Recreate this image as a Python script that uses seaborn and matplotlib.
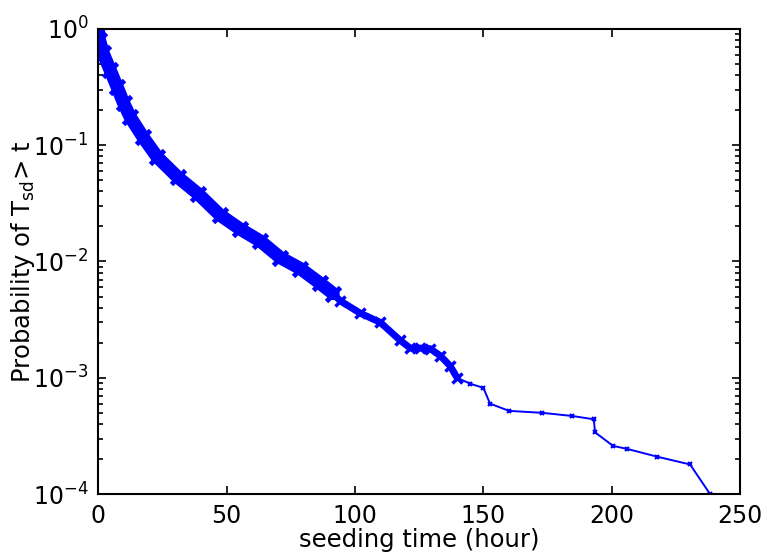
import numpy as np
import pandas as pd
import matplotlib
matplotlib.use("Agg")
import matplotlib.pyplot as plt
import seaborn as sns

# seeding time (hour) and survival probability
seed_time = [0.0, 0.5, 1.9, 4.7, 7.4, 9.9, 12.5, 17.5, 23.0, 31.0, 39.0, 47.5,
             55.3, 63.1, 70.9, 78.7, 86.4, 91.5, 94.2, 102.0, 109.8, 117.6,
             121.5, 125.4, 129.3, 133.2, 137.0, 139.8, 144.9, 150.0, 152.6,
             160.0, 173.0, 184.6, 193.0, 193.5, 200.5, 206.0, 217.7, 230.5,
             238.3, 240.0]
prob = [1.0, 0.8, 0.62, 0.44, 0.316, 0.23, 0.174, 0.117, 0.079, 0.053, 0.038,
        0.025, 0.019, 0.015, 0.0108, 0.0087, 0.0065, 0.0053, 0.0046, 0.0036,
        0.0030, 0.0021, 0.0018, 0.0018, 0.00178, 0.00155, 0.00127, 0.0010,
        0.00089, 0.00082, 0.0006, 0.00052, 0.0005, 0.00047, 0.00044, 0.00034,
        0.00026, 0.000245, 0.00021, 0.00018, 0.0001, 0.00009]

x_ticks = [0, 50, 100, 150, 200, 250]

df = pd.DataFrame({"t": seed_time, "p": prob})

sns.set_theme(style="ticks")
plt.rcParams["font.family"] = ["DejaVu Sans"]
plt.rcParams["mathtext.fontset"] = "dejavusans"
plt.rcParams["text.color"] = "black"
plt.rcParams["axes.labelcolor"] = "black"
plt.rcParams["xtick.color"] = "black"
plt.rcParams["ytick.color"] = "black"

fig = plt.figure(figsize=(7.67, 5.54), dpi=100)
ax = fig.add_axes([0.128, 0.108, 0.837, 0.84])

blue = "#0000ff"
dense = df[df.t <= 92]
mid = df[(df.t >= 91.5) & (df.t <= 140)]
sparse = df[df.t >= 139.8]

# thick band where the markers crowd together, thin line where they thin out
sns.lineplot(data=dense, x="t", y="p", ax=ax, color=blue, lw=9.5, sort=False,
             estimator=None, marker="x", markersize=10, mew=3.5, mec=blue)
sns.lineplot(data=mid, x="t", y="p", ax=ax, color=blue, lw=5, sort=False,
             estimator=None, marker="x", markersize=7, mew=2.5, mec=blue)
sns.lineplot(data=sparse, x="t", y="p", ax=ax, color=blue, lw=1.4, sort=False,
             estimator=None, marker="x", markersize=3.5, mew=1.5, mec=blue)

ax.set_yscale("log")
ax.set_xlim(0, 250)
ax.set_ylim(1e-4, 1)
ax.set_xticks(x_ticks)
ax.set_xticklabels([str(v) for v in x_ticks])
ax.tick_params(which="both", direction="in", top=True, right=True,
               labelsize=17, width=1.2, color="black", labelcolor="black")
ax.tick_params(which="major", length=6, pad=7)
ax.tick_params(which="minor", length=3.5)
for s in ax.spines.values():
    s.set_linewidth(1.5)
    s.set_color("black")

ax.set_xlabel("seeding time (hour)", fontsize=17.5, labelpad=0)
ax.set_ylabel(r"Probability of T$_{\mathrm{sd}}$> t", fontsize=17.5, labelpad=-3)

fig.savefig("out.png", dpi=100)
